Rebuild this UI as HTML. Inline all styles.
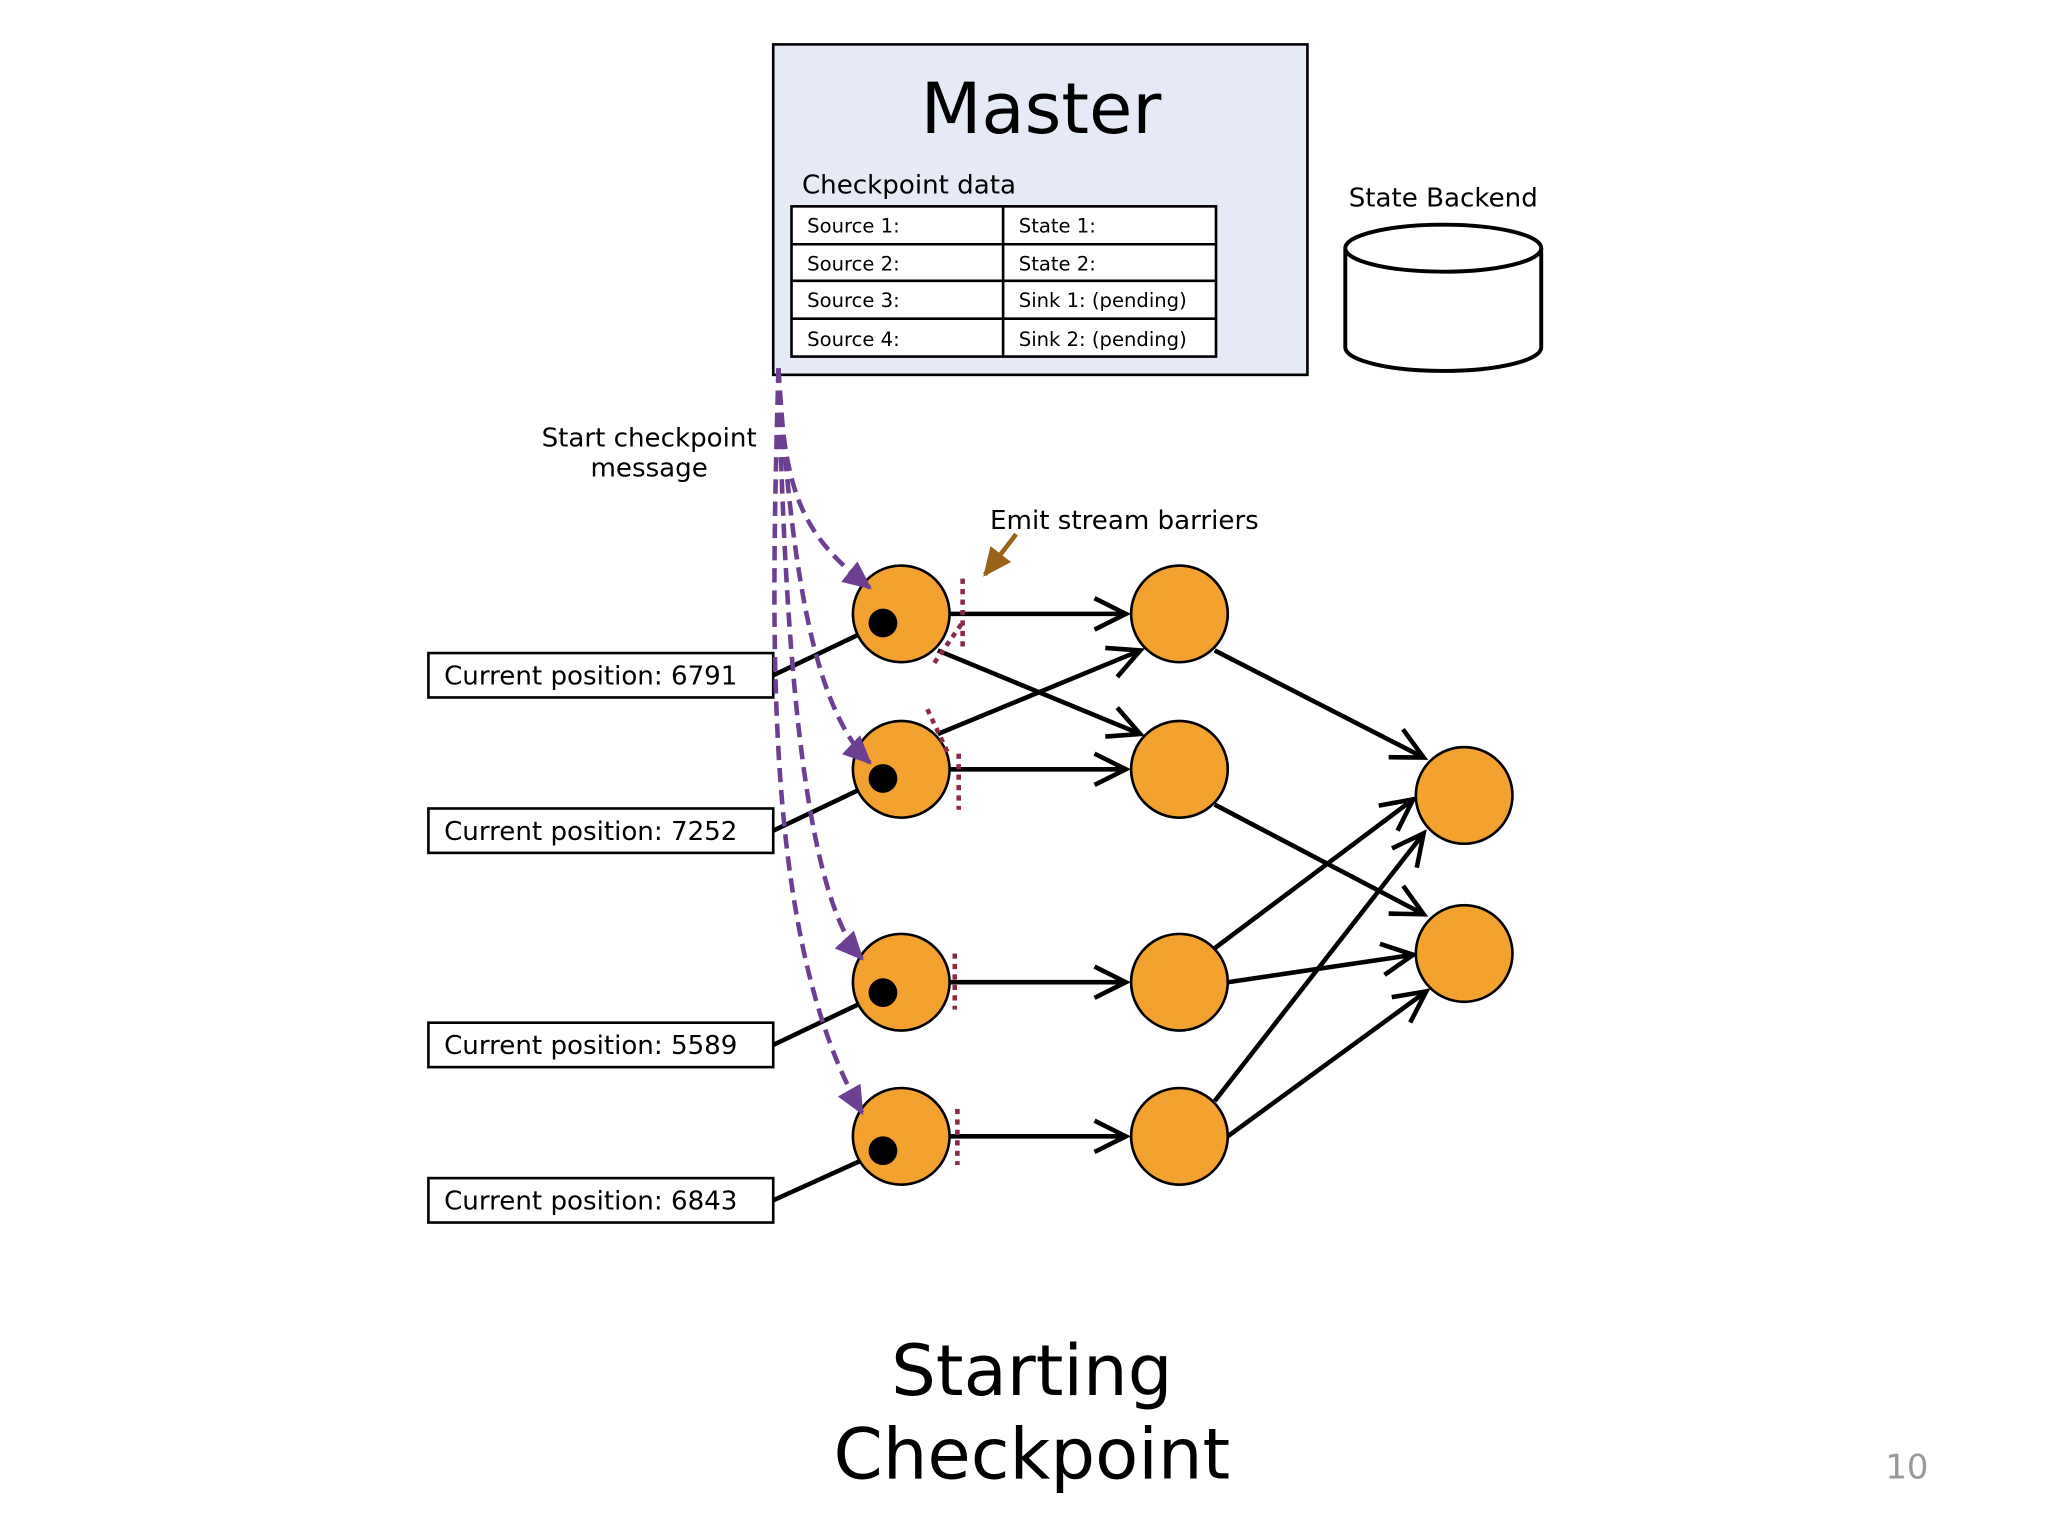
<!DOCTYPE html>
<html><head><meta charset="utf-8"><style>
html,body{margin:0;padding:0;background:#fff;}
svg{display:block;}
text{font-family:"DejaVu Sans","Liberation Sans",sans-serif;fill:#000;}
</style></head><body>
<svg width="2048" height="1536" viewBox="0 0 1568 1176" xmlns="http://www.w3.org/2000/svg">
<defs>
<marker id="oa" markerWidth="30" markerHeight="30" refX="26" refY="14" orient="auto" markerUnits="userSpaceOnUse">
<path d="M2,2 L26,14 L2,26" fill="none" stroke="#000" stroke-width="3.5"/>
</marker>
<marker id="pa" markerWidth="24" markerHeight="24" refX="20" refY="10" orient="auto" markerUnits="userSpaceOnUse">
<path d="M0,0 L22,10 L0,20 Z" fill="#6d3f93"/>
</marker>
<marker id="ba" markerWidth="24" markerHeight="24" refX="20" refY="10" orient="auto" markerUnits="userSpaceOnUse">
<path d="M0,0 L22,10 L0,20 Z" fill="#9a6418"/>
</marker>
</defs>
<rect width="1568" height="1176" fill="#fff"/>
<rect x="592" y="34" width="409" height="253" fill="#e6eaf6" stroke="#000" stroke-width="2"/>
<text x="797" y="102" font-size="54" text-anchor="middle">Master</text>
<text x="614" y="148" font-size="20">Checkpoint data</text>
<rect x="606" y="158" width="325" height="115" fill="#fff" stroke="#000" stroke-width="2"/>
<g stroke="#000" stroke-width="2">
<line x1="768" y1="158" x2="768" y2="273"/>
<line x1="606" y1="187" x2="931" y2="187"/>
<line x1="606" y1="215" x2="931" y2="215"/>
<line x1="606" y1="244" x2="931" y2="244"/>
</g>
<g font-size="15">
<text x="618" y="178">Source 1:</text><text x="780" y="178">State 1:</text>
<text x="618" y="207">Source 2:</text><text x="780" y="207">State 2:</text>
<text x="618" y="235">Source 3:</text><text x="780" y="235">Sink 1: (pending)</text>
<text x="618" y="265">Source 4:</text><text x="780" y="265">Sink 2: (pending)</text>
</g>
<text x="1105" y="158" font-size="20" text-anchor="middle">State Backend</text>
<path d="M1030,190 L1030,266 A75,18 0 0 0 1180,266 L1180,190" fill="#fff" stroke="#000" stroke-width="3"/>
<ellipse cx="1105" cy="190" rx="75" ry="18" fill="#fff" stroke="#000" stroke-width="3"/>
<text x="497" y="342" font-size="20" text-anchor="middle">Start checkpoint</text>
<text x="497" y="365" font-size="20" text-anchor="middle">message</text>
<text x="758" y="405" font-size="20">Emit stream barriers</text>
<line x1="778" y1="409" x2="754" y2="440" stroke="#9a6418" stroke-width="3.5" marker-end="url(#ba)"/>
<g fill="#fff" stroke="#000" stroke-width="2">
<rect x="328" y="500" width="264" height="34"/>
<rect x="328" y="619" width="264" height="34"/>
<rect x="328" y="783" width="264" height="34"/>
<rect x="328" y="902" width="264" height="34"/>
</g>
<g font-size="20">
<text x="340" y="524">Current position: 6791</text>
<text x="340" y="643">Current position: 7252</text>
<text x="340" y="807">Current position: 5589</text>
<text x="340" y="926">Current position: 6843</text>
</g>
<g stroke="#000" stroke-width="3.5" fill="none">
<line x1="592" y1="517" x2="676" y2="477"/>
<line x1="592" y1="636" x2="676" y2="596"/>
<line x1="592" y1="800" x2="676" y2="760"/>
<line x1="592" y1="919" x2="676" y2="881"/>
<line x1="727" y1="470" x2="862" y2="470" marker-end="url(#oa)"/>
<line x1="718" y1="498" x2="873" y2="562" marker-end="url(#oa)"/>
<line x1="718" y1="562" x2="873" y2="498" marker-end="url(#oa)"/>
<line x1="727" y1="589" x2="862" y2="589" marker-end="url(#oa)"/>
<line x1="727" y1="752" x2="862" y2="752" marker-end="url(#oa)"/>
<line x1="727" y1="870" x2="862" y2="870" marker-end="url(#oa)"/>
<line x1="930" y1="498" x2="1090" y2="580" marker-end="url(#oa)"/>
<line x1="930" y1="616" x2="1090" y2="700" marker-end="url(#oa)"/>
<line x1="930" y1="726" x2="1082" y2="612" marker-end="url(#oa)"/>
<line x1="940" y1="752" x2="1082" y2="731" marker-end="url(#oa)"/>
<line x1="930" y1="843" x2="1090" y2="638" marker-end="url(#oa)"/>
<line x1="940" y1="870" x2="1092" y2="759" marker-end="url(#oa)"/>
</g>
<g fill="#f3a12f" stroke="#000" stroke-width="2">
<circle cx="690" cy="470" r="37"/><circle cx="690" cy="589" r="37"/>
<circle cx="690" cy="752" r="37"/><circle cx="690" cy="870" r="37"/>
<circle cx="903" cy="470" r="37"/><circle cx="903" cy="589" r="37"/>
<circle cx="903" cy="752" r="37"/><circle cx="903" cy="870" r="37"/>
<circle cx="1121" cy="609" r="37"/><circle cx="1121" cy="730" r="37"/>
</g>
<g fill="#000">
<circle cx="676" cy="477" r="11"/><circle cx="676" cy="596" r="11"/>
<circle cx="676" cy="760" r="11"/><circle cx="676" cy="881" r="11"/>
</g>
<g stroke="#8b2a45" stroke-width="3.5" stroke-dasharray="4,4" fill="none">
<line x1="737" y1="443" x2="737" y2="495"/>
<line x1="736" y1="478" x2="715" y2="508"/>
<line x1="710" y1="543" x2="726" y2="577"/>
<line x1="734" y1="577" x2="734" y2="620"/>
<line x1="731" y1="730" x2="731" y2="773"/>
<line x1="733" y1="849" x2="733" y2="892"/>
</g>
<g stroke="#6d3f93" stroke-width="3.5" stroke-dasharray="11,6" fill="none">
<path d="M596,282 C600,380 615,410 666,450" marker-end="url(#pa)"/>
<path d="M596,282 C605,420 620,540 666,584" marker-end="url(#pa)"/>
<path d="M596,282 C600,450 610,680 660,734" marker-end="url(#pa)"/>
<path d="M596,282 C590,500 585,720 660,852" marker-end="url(#pa)"/>
</g>
<text x="790" y="1068" font-size="54" text-anchor="middle">Starting</text>
<text x="790" y="1132" font-size="54" text-anchor="middle">Checkpoint</text>
<text x="1460" y="1132" font-size="26" text-anchor="middle" style="fill:#999">10</text>
</svg>
</body></html>
